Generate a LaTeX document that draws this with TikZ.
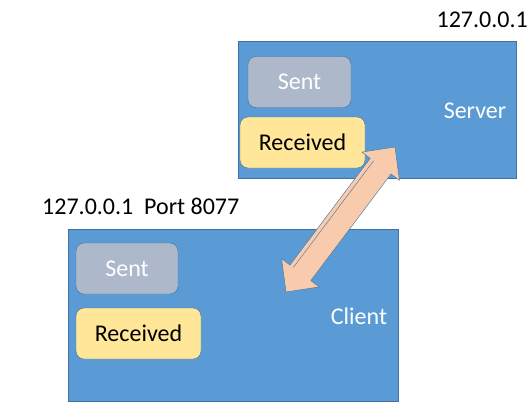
\documentclass[tikz,border=0pt]{standalone}
\usepackage{fontspec}
\setmainfont{Carlito}
\usepackage{tikz}
\usetikzlibrary{positioning}
\definecolor{hostblue}{HTML}{5B9BD5}
\definecolor{hostedge}{HTML}{41719C}
\definecolor{sentgray}{HTML}{ADB9CA}
\definecolor{recvyellow}{HTML}{FFE699}
\definecolor{linkpeach}{HTML}{F8CBAD}

\begin{document}
\begin{tikzpicture}[
    x=1pt, y=-1pt,
    font=\fontsize{24}{28}\selectfont,
    host/.style={draw=hostedge, fill=hostblue, inner sep=0pt},
    sentbox/.style={draw=hostedge, fill=sentgray, rounded corners=8pt, inner sep=0pt, minimum width=102pt, minimum height=51pt, text=white},
    recvbox/.style={draw=hostedge, fill=recvyellow, rounded corners=8pt, inner sep=0pt, minimum width=125pt, minimum height=51pt, text=black},
    hostlabel/.style={inner sep=0pt, text=white},
    addr/.style={inner sep=0pt, text=black},
    link/.style={draw=hostedge, fill=linkpeach, line join=miter},
  ]
  \useasboundingbox (0,0) rectangle (532,410);
  % server side
  \node[host, minimum width=278pt, minimum height=137pt] (server) at (377,109.5) {};
  \node[sentbox, minimum width=103pt] (srvsent) at (299.5,82) {Sent};
  \node[recvbox] (srvrecv) at (302.5,142.5) {Received};
  \node[hostlabel] (srvname) at (475,111) {Server};
  \node[addr, anchor=east] (srvaddr) at (528,20) {127.0.0.1};
  % client side
  \node[host, minimum width=330pt, minimum height=172pt] (client) at (233,315) {};
  \node[sentbox] (clisent) at (127,268.5) {Sent};
  \node[recvbox] (clirecv) at (138.5,333.5) {Received};
  \node[hostlabel] (cliname) at (359,316) {Client};
  \node[addr, anchor=west] (cliaddr) at (42,206) {127.0.0.1\ \ Port 8077};
  % two-way link
  \coordinate (hitip) at (395,147);
  \coordinate (lotip) at (286,292);
  \draw[link] (hitip) -- (399.4,180.3) -- (391.0,174.0) -- (310.8,280.6)
    -- (319.2,286.9) -- (lotip) -- (281.6,258.7) -- (290.0,265.0)
    -- (370.2,158.4) -- (361.8,152.1) -- cycle;
  \draw[hostedge] (373.6,160.8) -- (293.4,267.4);
\end{tikzpicture}
\end{document}
